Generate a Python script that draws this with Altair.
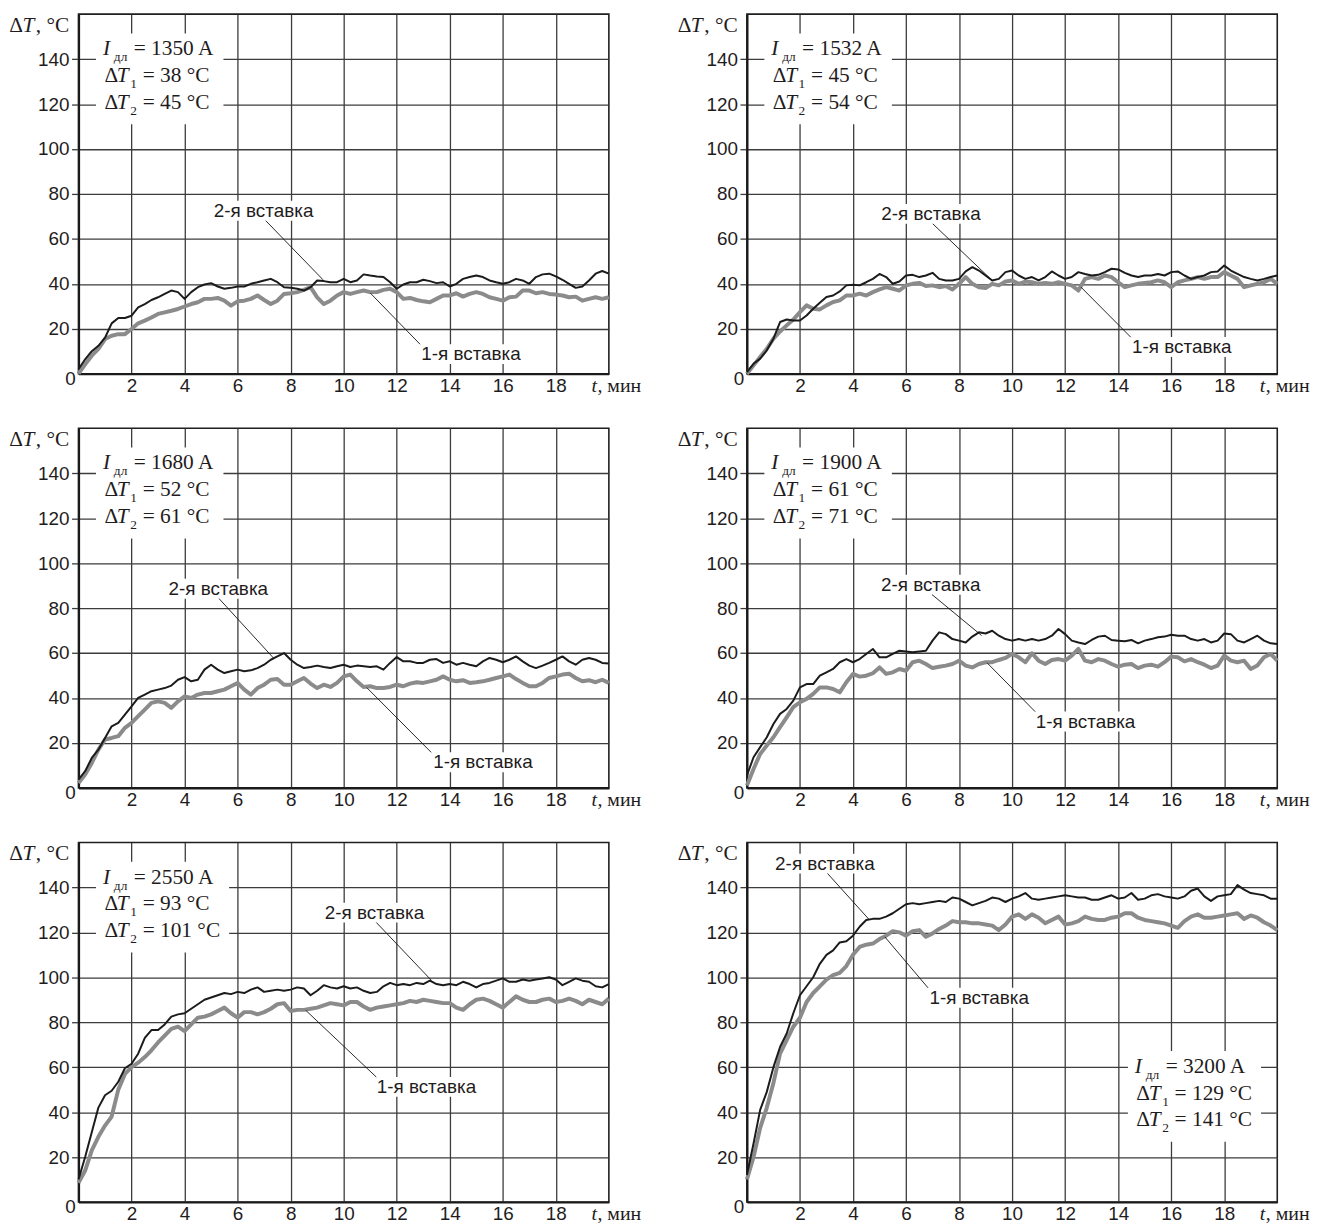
import altair as alt
import pandas as pd

T_STEP = 0.25  # minutes between read-off samples

# ---- read-off curves: "2-я вставка" (black) and "1-я вставка" (gray) ----
P1_S2 = [2, 6.4, 10, 12.4, 16, 22.4, 24.8, 24.8, 25.8, 29.5, 31, 32.8, 34, 35.5, 37, 36.3, 33.3, 36.3, 38.5, 39.7,
         40.3, 38.8, 37.8, 38.2, 38.8, 38.8, 40, 40.7, 41.5, 42.2, 40.7, 38.5, 38.2, 37.8, 37, 38.5, 41.5, 41.2, 40.7, 40.7,
         42.2, 40.7, 41.5, 44.2, 43.7, 43.3, 43, 40.7, 37.8, 39.7, 40.7, 40.7, 41.8, 41.2, 40.3, 40.7, 38.8, 40, 42.2, 43,
         43.7, 43, 41.5, 40.7, 40, 40.7, 42.2, 41.5, 40, 43, 44.2, 44.5, 43.3, 41.8, 40, 38.2, 38.8, 41.5, 44.5, 45.7, 44.5]
P1_S1 = [0, 4.2, 8, 11, 15.4, 16.9, 17.6, 17.6, 19.9, 22.4, 23.6, 25, 26.6, 27.3, 28, 28.8, 29.9, 31, 31.8, 33.3,
         33.3, 33.7, 32.5, 30.3, 32.2, 32.5, 33.3, 34.8, 32.8, 31, 32.5, 35.5, 35.8, 36.3, 37.3, 38.5, 34, 31, 32.5, 34.8,
         36.3, 35.5, 36.3, 37, 36.3, 36.3, 37.3, 37.8, 36.3, 33.3, 33.7, 32.8, 32.2, 31.8, 33.3, 34.8, 34.8, 35.8, 34.3, 35.5,
         36.3, 35.5, 34, 33.3, 32.5, 34, 34.3, 37, 37, 35.8, 36.3, 35.5, 35.2, 34.8, 34, 34.3, 32.5, 33.3, 34, 33.3, 34]
P2_S2 = [0.7, 4.4, 6.7, 10.4, 15.6, 23, 24.1, 23.7, 23.7, 25.9, 28.9, 31.6, 34.1, 34.8, 36.6, 39.3, 39.6, 39.3, 40.7, 42.2,
         44.4, 43, 40, 41, 43.7, 44, 43, 43.7, 44.9, 42.2, 41.5, 41.5, 42.2, 45.5, 47.4, 45.9, 43.7, 41.5, 42.2, 45.2,
         45.9, 43.7, 42.2, 43, 41.5, 43, 45.5, 43.7, 42.2, 43, 45.2, 44.4, 43.7, 44, 45.2, 46.7, 46.4, 44.9, 43.7, 43,
         43.7, 43.7, 44.4, 43.7, 45.2, 45.5, 43.7, 42.2, 43, 43.7, 45.2, 45.5, 48.1, 45.9, 44.4, 43, 42.2, 41.5, 42.2, 43, 43.7]
P2_S1 = [0, 3.7, 7.4, 11.1, 15.6, 18.8, 21.5, 24.1, 27.4, 30.4, 28.9, 28.6, 30.4, 31.9, 32.6, 34.8, 34.8, 35.6, 34.8, 36.3,
         37.5, 38.5, 37.8, 37, 39.3, 40, 40.4, 39, 39.3, 38.5, 39, 37.5, 40, 43, 40, 38.5, 38.1, 40, 39.3, 41,
         41.5, 40, 41, 40.7, 40, 40.4, 40, 40.7, 40, 39.3, 37, 42.2, 43, 42.2, 43.7, 43, 40.7, 38.5, 39.3, 40,
         40.4, 40.7, 41.5, 40.7, 38.5, 40.7, 41.5, 42.2, 43, 42.2, 43, 43, 45.2, 43.7, 42.2, 38.5, 39.3, 40, 40.7, 42.2, 40]
P3_S2 = [3.7, 7.4, 13.3, 17, 22.2, 27.4, 28.9, 32.6, 36.3, 40, 41.5, 43, 43.7, 44.4, 45.5, 48.1, 49.3, 47.4, 48.1, 52.6,
         54.8, 52.6, 51.1, 51.9, 52.6, 51.9, 52.3, 53.3, 54.8, 57, 58.5, 60, 57, 54.8, 53.3, 53.8, 54.4, 53.8, 53.3, 54.1,
         54.8, 53.8, 54.4, 54.1, 53.8, 54.1, 52.6, 55.6, 58.2, 56.3, 56.3, 55.6, 55.6, 57, 57.3, 55.6, 56.3, 54.8, 55.6, 54.8,
         54.1, 56.3, 57.8, 57, 55.9, 57, 58.5, 56.3, 54.4, 53.3, 54.4, 55.6, 57, 58.5, 56.3, 54.8, 57, 57.8, 57, 55.6, 55.3]
P3_S1 = [2.2, 5.9, 11.1, 17, 21.5, 22.2, 23, 26.7, 28.9, 31.9, 34.8, 37.8, 38.5, 37.8, 35.6, 38.5, 40.7, 40, 41.5, 42.2,
         42.2, 43, 43.7, 45.2, 46.7, 43.7, 41.5, 44.4, 45.9, 48.1, 48.4, 45.9, 45.9, 47.4, 48.9, 46.4, 44.4, 45.9, 44.9, 46.7,
         49.6, 50.4, 47.4, 44.9, 45.2, 44.4, 44.4, 44.9, 45.9, 45.2, 46.4, 47, 46.7, 47.4, 48.1, 49.6, 48.1, 47.4, 47.9, 46.7,
         47, 47.4, 48.1, 48.9, 49.6, 50.4, 48.4, 46.7, 45.2, 45.2, 46.7, 48.9, 49.6, 50.4, 50.8, 48.9, 47.4, 47.9, 47, 48.1, 46.7]
P4_S2 = [5.5, 13.6, 18.1, 22.5, 28.4, 32.9, 35.1, 38.8, 44.7, 46.2, 46.2, 49.9, 51.4, 52.9, 55.9, 57.3, 55.9, 57.3, 59.6, 61.8,
         58.1, 58.1, 59.6, 61, 60.7, 60.3, 60.7, 61, 65.5, 69.2, 68.4, 66.2, 65.5, 64.7, 67.3, 69.2, 68.7, 69.9, 67.7, 66.2,
         65.5, 66.2, 65.5, 66.2, 65.5, 66.2, 67.7, 70.7, 68.4, 65.5, 64.7, 64, 65.8, 67.3, 67.7, 65.8, 65.5, 65.2, 65.8, 64.3,
         65.5, 66.2, 67, 67.3, 68.1, 67.7, 67.7, 66.2, 65.5, 66.2, 64.7, 65.5, 68.7, 68.4, 65.5, 64.7, 66.2, 67.7, 65.5, 64.3, 64]
P4_S1 = [1, 8.4, 15.1, 18.8, 22.5, 27, 31.4, 35.9, 38.1, 39.6, 41.8, 44.7, 44.7, 44, 42.5, 47, 50.7, 49.5, 49.9, 51,
         53.6, 50.7, 51.4, 52.9, 52.1, 55.9, 56.6, 55.1, 53.3, 53.9, 54.4, 55.1, 56.6, 54.4, 53.6, 55.1, 55.9, 55.9, 56.9, 57.8,
         59.6, 58.1, 55.9, 59.9, 56.6, 55.1, 56.9, 57.3, 56.6, 58.8, 61.8, 56.6, 55.9, 57.3, 56.6, 55.1, 53.9, 54.8, 55.1, 53.3,
         54.4, 54.8, 53.9, 55.9, 58.4, 58.1, 56.3, 57.3, 55.9, 54.8, 53.3, 54.4, 58.8, 56.6, 55.9, 56.6, 52.9, 54.4, 58.1, 59.6, 56.6]
P5_S2 = [10, 20, 31, 42, 47.5, 49.5, 53.5, 59.5, 61.5, 66, 73, 76.5, 76.5, 79, 82.5, 83.5, 84, 86, 88, 90,
         91, 92, 93, 92.5, 93.5, 93, 94.5, 95.5, 93.5, 94, 94.5, 94, 94.5, 95.5, 95, 92, 94, 96.5, 95.5, 95,
         96, 95, 95.5, 94, 93, 93.5, 96, 97.5, 96.5, 97, 96.5, 97.5, 97, 98.5, 97, 96.5, 97, 96.5, 98, 97,
         95.5, 97, 97.5, 98.5, 99.5, 98, 98, 99, 98.5, 99, 99.5, 100, 99, 96.5, 98, 99.5, 98.5, 98, 96, 95.5, 97]
P5_S1 = [8.5, 14, 23, 29, 34, 38, 50, 57, 60, 62, 64.5, 67.5, 71, 74, 77, 78, 76, 79, 82, 82.5,
         83.5, 85, 86.5, 84, 82, 84.5, 84.5, 83.5, 84.5, 86, 88, 88.5, 85, 85.5, 85.5, 86, 86.5, 87.5, 88.5, 88,
         87.5, 89, 89, 87, 85.5, 86.5, 87, 87.5, 88, 88.5, 89.5, 89, 90, 89.5, 89, 88.5, 88.5, 86.5, 85.5, 88,
         90, 90.5, 89.5, 88, 86.5, 89, 91.5, 90, 89, 89, 90, 90.5, 89, 89.5, 90.5, 89.5, 88, 90, 89, 88, 90.5]
P6_S2 = [12, 26, 41, 49, 60, 69, 75, 84, 92, 96, 100, 106, 110, 112, 115.5, 116, 118.5, 122.5, 125.5, 126,
         126, 127, 128.5, 130.5, 132.5, 133, 132.5, 133, 133.5, 134, 133.5, 135.5, 135, 133.5, 132, 133, 134, 135.5, 135, 133.5,
         135, 136, 137.5, 135, 134.5, 135, 135.5, 136, 136.5, 136, 135.5, 135.5, 134.5, 134.5, 135.5, 136.5, 135, 135.5, 137.5, 134.5,
         135, 136.5, 137, 136, 135.5, 135, 136, 138.5, 139.5, 136, 134, 136, 136.5, 137, 141, 139, 137.5, 137, 136.5, 135, 135]
P6_S1 = [10, 20, 33, 42, 53, 66, 72, 78, 82, 89, 93, 96, 99, 101, 102, 105, 110, 113.5, 114.5, 115,
         117, 118.5, 120.5, 120, 118.5, 120.5, 121, 118, 119.5, 121.5, 123, 125, 124.5, 124.5, 124, 124, 123.5, 123, 121, 123.5,
         127, 128, 126, 128, 126.5, 124, 125.5, 127, 123.5, 124, 125, 127, 126, 125.5, 125.5, 126.5, 127, 128.5, 128.5, 126.5,
         125.5, 125, 124.5, 124, 123, 122, 125, 127, 128, 126.5, 126.5, 127, 127.5, 128, 128.5, 126, 127.5, 126.5, 124.5, 123, 121]

SERIES = [(P1_S2, P1_S1), (P2_S2, P2_S1), (P3_S2, P3_S1),
          (P4_S2, P4_S1), (P5_S2, P5_S1), (P6_S2, P6_S1)]

CURRENTS = ["1350", "1532", "1680", "1900", "2550", "3200"]
DT1 = ["38", "45", "52", "61", "93", "129"]
DT2 = ["45", "54", "61", "71", "101", "141"]
X_TICKS = [2, 4, 6, 8, 10, 12, 14, 16, 18]
Y_TICKS = [20, 40, 60, 80, 100, 120, 140]
LABEL_2 = "2-я вставка"
LABEL_1 = "1-я вставка"

# ---- annotation placement (data units: minutes, °C) ----
LAYOUT = [
    {"box": (0.92, 141.7), "l2": (6.98, 72.5), "k2": (7.06, 68.1, 9.22, 41.8), "l1": (14.8, 8.7), "k1": (12.88, 13.1, 11.01, 35.8)},
    {"box": (0.92, 141.7), "l2": (6.94, 71.1), "k2": (7.01, 66.7, 9.25, 41.5), "l1": (16.4, 11.9), "k1": (14.47, 16.3, 12.6, 38.5)},
    {"box": (0.92, 141.7), "l2": (5.27, 88.6), "k2": (5.3, 84.2, 7.35, 57.8), "l1": (15.25, 11.4), "k1": (13.3, 15.8, 10.87, 44.6)},
    {"box": (0.92, 141.7), "l2": (6.93, 90.4), "k2": (6.98, 86.0, 8.85, 67.8), "l1": (12.77, 29.5), "k1": (10.87, 33.9, 9.06, 55.6)},
    {"box": (0.92, 141.7), "l2": (11.16, 128.8), "k2": (11.23, 124.4, 13.31, 98.6), "l1": (13.12, 51.2), "k1": (11.23, 55.6, 8.57, 85.3)},
    {"box": (14.63, 57.5), "l2": (2.94, 150.6), "k2": (3.04, 146.2, 4.6, 125.8), "l1": (8.76, 90.9), "k1": (6.83, 95.3, 5.2, 118.0)},
]

W, H = 534, 362
XMAX, YMAX = 20, 160
PXT = W / XMAX   # px per minute
PXV = H / YMAX   # px per °C

SERIF = "Liberation Serif"
SANS = "Liberation Sans"
INK = "#1f1c1d"
BLACK = "#1b1b1b"
GRAY = "#8b8b8b"
GRID = "#3c3c3c"

FS = 21.5       # serif text size
FS_SUB = 13.5
FS_LAB = 19

SERIF_W = {"=": 0.564, " ": 0.25, "°": 0.4, "C": 0.667, "A": 0.722}


def serif_width(s, size):
    return sum(SERIF_W.get(ch, 0.5) for ch in s) * size


def pc(t0, v0, dx, dy, txt):
    # dx, dy are pixel nudges (dy positive = down)
    return {"t": t0 + dx / PXT, "v": v0 - dy / PXV, "txt": txt}


XS = alt.Scale(domain=[0, XMAX], nice=False, zero=False)
YS = alt.Scale(domain=[0, YMAX], nice=False, zero=False)
XAX = alt.Axis(values=X_TICKS, grid=True, gridColor=GRID, gridWidth=1.3, gridOpacity=1,
               ticks=False, tickSize=0, labelFont=SANS, labelFontSize=FS_LAB, labelColor=INK,
               labelPadding=3, labelFlush=False, labelOverlap=False,
               domainColor="#1a1a1a", domainWidth=2.2, title=None)
YAX = alt.Axis(values=Y_TICKS, grid=True, gridColor=GRID, gridWidth=1.3, gridOpacity=1,
               ticks=True, tickSize=7, tickColor=GRID, tickWidth=1.3,
               labelFont=SANS, labelFontSize=FS_LAB, labelColor=INK, labelPadding=2.5,
               labelFlush=False, labelOverlap=False,
               domainColor="#1a1a1a", domainWidth=2.2, title=None)

EQ1_DX = 31     # start of "= ... A" on the current line
EQ_DX = 40      # start of "= ... °C" on the temperature lines


def make_panel(i):
    s2, s1 = SERIES[i]
    lay = LAYOUT[i]
    X = alt.X("t:Q", scale=XS, axis=XAX, title=None)
    Y = alt.Y("v:Q", scale=YS, axis=YAX, title=None)

    df2 = pd.DataFrame({"t": [k * T_STEP for k in range(len(s2))], "v": s2})
    df1 = pd.DataFrame({"t": [k * T_STEP for k in range(len(s1))], "v": s1})

    gray = alt.Chart(df1).mark_line(color=GRAY, strokeWidth=4, strokeJoin="round").encode(x=X, y=Y)
    black = alt.Chart(df2).mark_line(color=BLACK, strokeWidth=2, strokeJoin="round").encode(x=X, y=Y)

    # parameter block text
    ta, v1 = lay["box"]
    dv = 27 / PXV
    v2, v3 = v1 - dv, v1 - 2 * dv
    l1 = "= %s A" % CURRENTS[i]
    l2 = "= %s °C" % DT1[i]
    l3 = "= %s °C" % DT2[i]
    up, it, sub, up20, it20 = [], [], [], [], []
    up += [pc(ta, v1, EQ1_DX, 0, l1), pc(ta, v2, 1.5, 0, "Δ"), pc(ta, v2, EQ_DX, 0, l2),
           pc(ta, v3, 1.5, 0, "Δ"), pc(ta, v3, EQ_DX, 0, l3)]
    it += [pc(ta, v1, 0, 0, "I"), pc(ta, v2, 14, 0, "T"), pc(ta, v3, 14, 0, "T")]
    sub += [pc(ta, v1, 11, 6, "дл"), pc(ta, v2, 27.5, 6, "1"), pc(ta, v3, 27.5, 6, "2")]

    # axis captions
    vt = YMAX - 18 / PXV
    up += [pc(0, vt, -69.7, 0, "Δ"), pc(0, vt, -43, 0, ", °C")]
    it += [pc(0, vt, -56.5, 0, "T")]
    it20 += [pc(XMAX, 0, -17.6, 18.5, "t")]
    up20 += [pc(XMAX, 0, -11.5, 18.5, ", мин")]

    # white boxes
    right_px = max(EQ1_DX + serif_width(l1, FS), EQ_DX + serif_width(l2, FS), EQ_DX + serif_width(l3, FS)) + 9
    hw, hh = 52 / PXT, 10 / PXV
    boxes = [
        {"t": ta - 7 / PXT, "t2": ta + right_px / PXT, "v": v1 + 22 / PXV, "v2": v3 - 15.5 / PXV},
        {"t": lay["l2"][0] - hw, "t2": lay["l2"][0] + hw, "v": lay["l2"][1] - hh, "v2": lay["l2"][1] + hh},
        {"t": lay["l1"][0] - hw, "t2": lay["l1"][0] + hw, "v": lay["l1"][1] - hh, "v2": lay["l1"][1] + hh},
    ]
    rect = alt.Chart(pd.DataFrame(boxes)).mark_rect(fill="white").encode(
        x=X, x2=alt.X2("t2:Q"), y=Y, y2=alt.Y2("v2:Q"))

    k2, k1 = lay["k2"], lay["k1"]
    leaders = pd.DataFrame([
        {"t": k2[0], "v": k2[1], "t2": k2[2], "v2": k2[3]},
        {"t": k1[0], "v": k1[1], "t2": k1[2], "v2": k1[3]},
    ])
    rules = alt.Chart(leaders).mark_rule(color="#111111", strokeWidth=0.9).encode(
        x=X, x2=alt.X2("t2:Q"), y=Y, y2=alt.Y2("v2:Q"))

    labs = pd.DataFrame([
        {"t": lay["l2"][0], "v": lay["l2"][1], "txt": LABEL_2},
        {"t": lay["l1"][0], "v": lay["l1"][1], "txt": LABEL_1},
        pc(0, 0, -8, 5, "0"),
    ])
    labels = alt.Chart(labs).mark_text(font=SANS, fontSize=FS_LAB, align="center", baseline="middle",
                                       color=INK).encode(x=X, y=Y, text="txt:N")

    def tl(rows, **kw):
        return alt.Chart(pd.DataFrame(rows)).mark_text(font=SERIF, align="left", baseline="alphabetic",
                                                        color=INK, **kw).encode(x=X, y=Y, text="txt:N")

    layers = [gray, black, rect, rules, labels,
              tl(up, fontSize=FS), tl(it, fontSize=FS, fontStyle="italic"), tl(sub, fontSize=FS_SUB),
              tl(up20, fontSize=20), tl(it20, fontSize=20, fontStyle="italic")]
    return alt.layer(*layers).properties(width=W, height=H)


panels = [make_panel(i) for i in range(6)]

chart = alt.concat(*panels, columns=2, spacing={"row": 55, "column": 139}, bounds="flush").properties(
    padding={"left": 0, "top": 1, "right": 4, "bottom": 0},
    background="white",
).configure_view(stroke="#1f1f1f", strokeWidth=1.6)

chart.save("out.html", embed_options={"renderer": "svg", "actions": False})
